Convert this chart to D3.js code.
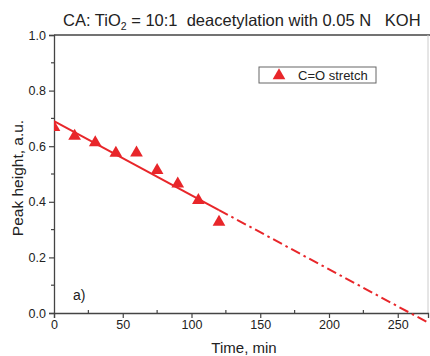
<!DOCTYPE html>
<html>
<head>
<meta charset="utf-8">
<script src="https://cdn.jsdelivr.net/npm/d3@7"></script>
<style>
  body { margin: 0; background: #fff; }
  text { font-family: "Liberation Sans", Arial, sans-serif; fill: #222; }
</style>
</head>
<body>
<div id="chart"></div>
<script>
// measured points, C=O stretch
var times = [0, 15, 30, 45, 60, 75, 90, 105, 120];
var peaks = [0.668, 0.636, 0.613, 0.575, 0.576, 0.513, 0.465, 0.405, 0.327];

// linear fit: solid over the data, dash-dot extrapolation
var fitIntercept = 0.69;
var fitSlope = -0.002664;
var fitSolid = [0, 120];
var fitExtra = [120, 272];

var xTicks = [0, 50, 100, 150, 200, 250];
var yTicks = [0.0, 0.2, 0.4, 0.6, 0.8, 1.0];

var width = 430, height = 356;
var margin = { top: 35, right: 2, bottom: 43, left: 54 };

var svg = d3.select("#chart").append("svg")
	.attr("width", width)
	.attr("height", height)

var x = d3.scaleLinear().domain([0, 272]).range([margin.left, width - margin.right]);
var y = d3.scaleLinear().domain([0, 1]).range([height - margin.bottom, margin.top]);

var defs = svg.append("defs");
defs.append("clipPath").attr("id", "plotclip")
	.append("rect")
	.attr("x", margin.left)
	.attr("y", margin.top)
	.attr("width", width - margin.right - margin.left)
	.attr("height", height - margin.top - margin.bottom + 10)

// frame (top and right)
svg.append("line")
	.attr("x1", x(0)).attr("x2", width)
	.attr("y1", y(1)).attr("y2", y(1))
	.attr("stroke", "#444").attr("stroke-width", 1.3)
svg.append("line")
	.attr("x1", width - 2).attr("x2", width - 2)
	.attr("y1", y(1)).attr("y2", y(0))
	.attr("stroke", "#ccc").attr("stroke-width", 1)

// x axis
var xAxis = svg.append("g")
	.attr("transform", "translate(0," + y(0) + ")")
	.call(d3.axisBottom(x).tickValues(xTicks).tickFormat(d3.format("d")).tickSize(5).tickPadding(2))
xAxis.selectAll("line").attr("stroke", "#444").attr("stroke-width", 1.2)
xAxis.select(".domain").attr("stroke", "#444").attr("stroke-width", 1.3)
xAxis.selectAll("text").attr("font-size", "12.5px").attr("fill", "#222")

svg.append("g")
	.selectAll("line")
	.data(d3.range(25, 272, 50))
	.enter()
		.append("line")
		.attr("x1", function(d) { return x(d); })
		.attr("x2", function(d) { return x(d); })
		.attr("y1", y(0) - 3)
		.attr("y2", y(0))
		.attr("stroke", "#444")
		.attr("stroke-width", 1.2)

// y axis
var yAxis = svg.append("g")
	.attr("transform", "translate(" + x(0) + ",0)")
	.call(d3.axisLeft(y).tickValues(yTicks).tickFormat(d3.format(".1f")).tickSize(5).tickPadding(3))
yAxis.selectAll("line").attr("stroke", "#444").attr("stroke-width", 1.2)
yAxis.select(".domain").attr("stroke", "#444").attr("stroke-width", 1.3)
yAxis.selectAll("text").attr("font-size", "12.5px").attr("fill", "#222")

svg.append("g")
	.selectAll("line")
	.data([0.1, 0.3, 0.5, 0.7, 0.9])
	.enter()
		.append("line")
		.attr("x1", x(0) - 3)
		.attr("x2", x(0))
		.attr("y1", function(d) { return y(d); })
		.attr("y2", function(d) { return y(d); })
		.attr("stroke", "#444")
		.attr("stroke-width", 1.2)

// fit lines
var fit = function(t) { return fitIntercept + fitSlope * t; };
var plot = svg.append("g").attr("clip-path", "url(#plotclip)");

plot.append("line")
	.attr("x1", x(fitSolid[0])).attr("y1", y(fit(fitSolid[0])))
	.attr("x2", x(fitSolid[1])).attr("y2", y(fit(fitSolid[1])))
	.attr("stroke", "#e8262a").attr("stroke-width", 2)

plot.append("line")
	.attr("x1", x(fitExtra[0])).attr("y1", y(fit(fitExtra[0])))
	.attr("x2", x(fitExtra[1])).attr("y2", y(fit(fitExtra[1])))
	.attr("stroke", "#e8262a").attr("stroke-width", 2)
	.attr("stroke-dasharray", "10,4,2.5,4")

// points
var tri = d3.symbol().type(d3.symbolTriangle).size(70);
plot.selectAll("path.pt")
	.data(times)
	.enter()
		.append("path")
		.attr("class", "pt")
		.attr("d", tri)
		.attr("fill", "#e8262a")
		.attr("transform", function(d, i) { return "translate(" + x(d) + "," + y(peaks[i]) + ")"; })

// legend
var leg = svg.append("g").attr("transform", "translate(259,67)");
leg.append("rect")
	.attr("width", 117).attr("height", 16)
	.attr("fill", "#fff").attr("stroke", "#666").attr("stroke-width", 1)
leg.append("path")
	.attr("d", tri)
	.attr("fill", "#e8262a")
	.attr("transform", "translate(20,8.5)")
leg.append("text")
	.attr("x", 39).attr("y", 13)
	.attr("font-size", "13px")
	.text("C=O stretch")

// panel label
svg.append("text")
	.attr("x", 73).attr("y", 300)
	.attr("font-size", "14px")
	.text("a)")

// title
var title = svg.append("text")
	.attr("x", 63).attr("y", 26)
	.attr("font-size", "16.5px")
title.append("tspan").text("CA: TiO")
title.append("tspan").attr("font-size", "10.5px").attr("dy", 4).text("2")
title.append("tspan").attr("dy", -4).text(" = 10:1\u00a0 deacetylation with 0.05 N\u00a0\u00a0 KOH")

// axis titles
svg.append("text")
	.attr("x", (x(0) + width) / 2 + 2).attr("y", 353)
	.attr("text-anchor", "middle")
	.attr("font-size", "15px")
	.text("Time, min")

svg.append("text")
	.attr("transform", "translate(23," + (y(0.5) + 4) + ") rotate(-90)")
	.attr("text-anchor", "middle")
	.attr("font-size", "15.5px")
	.text("Peak height, a.u.")
</script>
</body>
</html>
